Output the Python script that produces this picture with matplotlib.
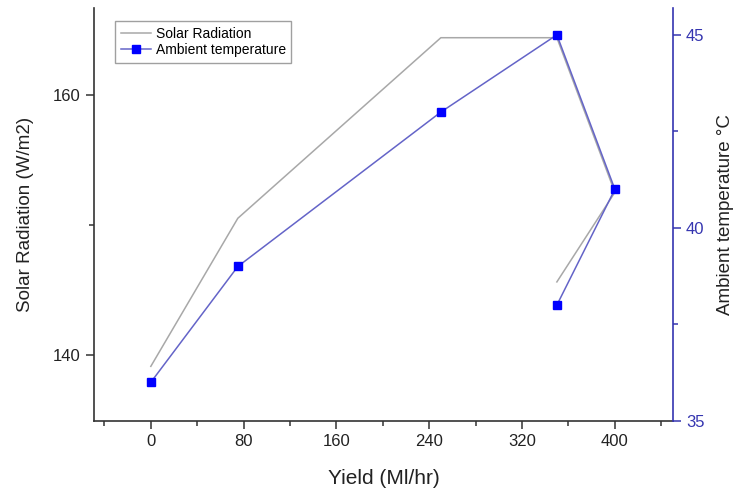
import matplotlib.pyplot as plt
from matplotlib.ticker import MultipleLocator

plt.rcParams['font.family'] = ['Liberation Sans', 'DejaVu Sans']

yield_x = [0, 75, 250, 350, 400, 350]
solar = [139.1, 150.5, 164.4, 164.4, 152.5, 145.6]
ambient = [36, 39, 43, 45, 41, 38]

axis_dark = '#333333'
axis_blue = '#3535b0'


def main():
    fig = plt.figure(figsize=(7.37, 4.9), dpi=100)
    ax = fig.add_axes([0.1275, 0.141, 0.7855, 0.843])
    ax2 = ax.twinx()

    l1, = ax.plot(yield_x, solar, color='#a8a8a8', lw=1.1, label='Solar Radiation')
    l2, = ax2.plot(yield_x, ambient, color='#6464c8', lw=1.1, marker='s', ms=6,
                   mfc='#0000ff', mec='#0000ff', label='Ambient temperature')

    ax.set_xlim(-49, 450)
    ax.set_ylim(134.9, 166.7)
    ax2.set_ylim(35, 45.7)

    ax.xaxis.set_major_locator(MultipleLocator(80))
    ax.xaxis.set_minor_locator(MultipleLocator(40))
    ax.yaxis.set_major_locator(MultipleLocator(20))
    ax.yaxis.set_minor_locator(MultipleLocator(10))
    ax2.yaxis.set_major_locator(MultipleLocator(5))
    ax2.yaxis.set_minor_locator(MultipleLocator(2.5))

    ax.spines['top'].set_visible(False)
    ax2.spines['top'].set_visible(False)
    ax.spines['right'].set_visible(False)
    ax.spines['left'].set_color(axis_dark)
    ax.spines['bottom'].set_color(axis_dark)
    ax2.spines['left'].set_visible(False)
    ax2.spines['bottom'].set_visible(False)
    ax2.spines['right'].set_color(axis_blue)
    for s in ax.spines.values():
        s.set_linewidth(1.2)
    ax2.spines['right'].set_linewidth(1.2)

    ax.tick_params(axis='both', which='major', direction='out', length=6, width=1.1,
                   color=axis_dark, labelsize=12, labelcolor='#222222')
    ax.tick_params(axis='both', which='minor', direction='out', length=3.5, width=1.1,
                   color=axis_dark)
    ax2.tick_params(axis='y', which='major', direction='out', length=6, width=1.1,
                    color=axis_blue, labelsize=12, labelcolor=axis_blue)
    ax2.tick_params(axis='y', which='minor', direction='out', length=3.5, width=1.1,
                    color=axis_blue)

    ax.set_xlabel('Yield (Ml/hr)', fontsize=15, color='#222222', labelpad=14)
    ax.set_ylabel('Solar Radiation (W/m2)', fontsize=13.5, color='#222222', labelpad=14)
    ax2.set_ylabel('Ambient temperature °C', fontsize=13.5, color='#222222', labelpad=9)

    leg = ax.legend(handles=[l1, l2], loc='upper left', bbox_to_anchor=(0.025, 0.985),
                    fontsize=10, frameon=True, fancybox=False, handlelength=2.2,
                    borderpad=0.4, labelspacing=0.2, handletextpad=0.3)
    leg.get_frame().set_edgecolor('#888888')
    leg.get_frame().set_linewidth(1.0)

    fig.savefig('out.png', dpi=100)


if __name__ == "__main__":
    main()
